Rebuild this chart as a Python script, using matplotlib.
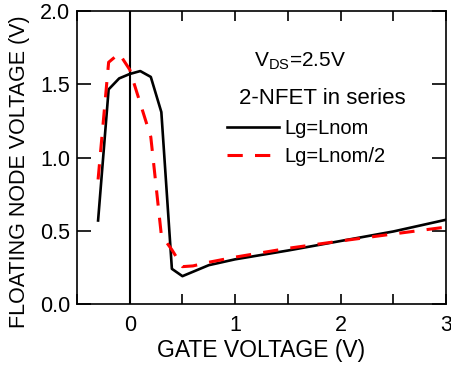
import numpy as np
import matplotlib
matplotlib.use("Agg")
import matplotlib.pyplot as plt
from matplotlib.ticker import MultipleLocator, FormatStrFormatter

plt.rcParams['font.family'] = ['Liberation Sans', 'DejaVu Sans']

# gate voltage (V) and floating node voltage (V)
vg_nom = [-0.3, -0.2, -0.1, 0.0, 0.1, 0.2, 0.3, 0.4, 0.5, 0.6, 0.75, 1.0, 1.5, 2.0, 2.5, 3.0]
vf_nom = [0.57, 1.465, 1.54, 1.57, 1.59, 1.55, 1.31, 0.24, 0.19, 0.22, 0.265, 0.305, 0.365, 0.43, 0.495, 0.575]

vg_half = [-0.3, -0.2, -0.1, 0.0, 0.1, 0.2, 0.3, 0.4, 0.5, 0.6, 0.75, 1.0, 1.5, 2.0, 2.5, 3.0]
vf_half = [0.85, 1.65, 1.71, 1.60, 1.37, 1.14, 0.47, 0.37, 0.255, 0.26, 0.285, 0.32, 0.38, 0.43, 0.478, 0.525]

fig = plt.figure(figsize=(4.51, 3.69), dpi=100)
ax = fig.add_axes([77/451, 1 - 304/369, (446 - 77)/451, (304 - 11)/369])

ax.axvline(0, color='black', lw=1.5)
ax.plot(vg_nom, vf_nom, color='black', lw=1.9, label='Lg=Lnom')
ax.plot(vg_half, vf_half, color='red', lw=2.2, ls=(0, (5, 4)), label='Lg=Lnom/2')

ax.set_xlim(-0.5, 3)
ax.set_ylim(0, 2.0)
ax.xaxis.set_major_locator(MultipleLocator(1))
ax.xaxis.set_minor_locator(MultipleLocator(0.5))
ax.yaxis.set_major_locator(MultipleLocator(0.5))
ax.yaxis.set_major_formatter(FormatStrFormatter('%.1f'))
ax.tick_params(which='both', direction='in', top=True, right=True, labelsize=15.5, width=1.2, color='black')
ax.tick_params(axis='y', which='major', length=10, pad=5)
ax.tick_params(axis='x', which='major', length=7, pad=8)
ax.tick_params(axis='x', which='minor', length=7)
ax.tick_params(axis='y', which='minor', length=0)
for s in ax.spines.values():
    s.set_linewidth(1.2)

ax.set_xlabel('GATE VOLTAGE (V)', fontsize=16.5, labelpad=2)
ax.set_ylabel('FLOATING NODE VOLTAGE (V)', fontsize=15.5)
ax.yaxis.set_label_coords(-0.128, 0.452)

ax.text(0.605, 0.83, r'V$_{\mathregular{DS}}$=2.5V', transform=ax.transAxes, fontsize=15, ha='center', va='center')
ax.text(0.665, 0.703, '2-NFET in series', transform=ax.transAxes, fontsize=16, ha='center', va='center')
ax.legend(loc='upper left', bbox_to_anchor=(0.385, 0.66), frameon=False, fontsize=14.5,
          handlelength=2.6, handletextpad=0.25, labelspacing=0.45, borderaxespad=0)

fig.savefig('out.png', dpi=100)
